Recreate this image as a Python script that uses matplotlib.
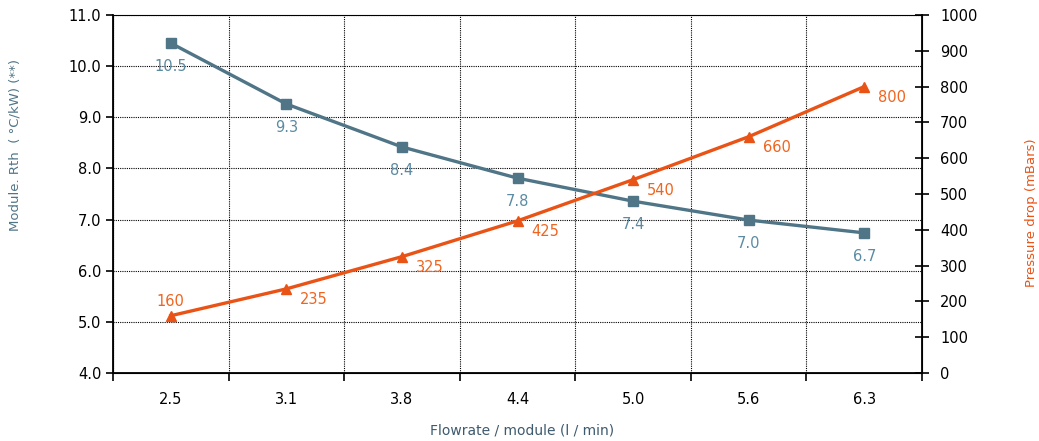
import matplotlib.pyplot as plt
import numpy as np

flow = ["2.5", "3.1", "3.8", "4.4", "5.0", "5.6", "6.3"]
rth = [10.45, 9.26, 8.42, 7.81, 7.36, 6.99, 6.74]
rth_labels = ["10.5", "9.3", "8.4", "7.8", "7.4", "7.0", "6.7"]
dp = [160, 235, 325, 425, 540, 660, 800]

blue = "#4f7587"
blue_txt = "#5b8ba3"
orange = "#ea5316"
orange_txt = "#f0641f"

W, H = 1039, 441


def make_fig():
    fig = plt.figure(figsize=(W / 100, H / 100), dpi=100)
    ax = fig.add_axes([113 / W, 1 - 373 / H, 809 / W, 358 / H])
    x = np.arange(len(flow))

    ax.set_xlim(-0.5, len(flow) - 0.5)
    ax.set_ylim(4, 11)
    ax.set_yticks(np.arange(4, 11.01, 1.0))
    ax.set_yticklabels([f"{v:.1f}" for v in np.arange(4, 11.01, 1.0)])
    ax.set_xticks(x)
    ax.set_xticklabels(flow)
    ax.set_xticks(np.arange(-0.5, len(flow)), minor=True)
    ax.tick_params(axis="x", which="major", length=0, pad=14, labelsize=10.5)
    ax.tick_params(axis="x", which="minor", length=6, width=1.2, direction="out")
    ax.tick_params(axis="y", length=5, width=1.2, direction="out", labelsize=10.5)
    ax.grid(True, axis="y", color="black", linestyle=(0, (1, 1)), linewidth=0.8)
    ax.grid(True, axis="x", which="minor", color="black", linestyle=(0, (1, 1)), linewidth=0.8)
    ax.set_axisbelow(True)
    ax.spines["top"].set_linestyle((0, (1, 1)))
    ax.spines["top"].set_linewidth(0.8)
    ax.spines["left"].set_linewidth(1.3)
    ax.spines["bottom"].set_linewidth(1.3)

    ax.plot(x, rth, color=blue, linewidth=2.4, marker="s", markersize=7, zorder=3)
    for xi, yi, lab in zip(x, rth, rth_labels):
        ax.annotate(lab, (xi, yi), xytext=(0, -17), textcoords="offset points",
                    ha="center", va="center", color=blue_txt, fontsize=10.5)

    ax2 = ax.twinx()
    ax2.set_ylim(0, 1000)
    ax2.set_yticks(np.arange(0, 1001, 100))
    ax2.tick_params(axis="y", length=10, width=1.2, direction="inout", labelsize=10.5, pad=8)
    ax2.spines["right"].set_linewidth(1.3)
    ax2.spines["top"].set_visible(False)
    ax2.plot(x, dp, color=orange, linewidth=2.4, marker="^", markersize=7.5, zorder=3)
    for i, (xi, yi) in enumerate(zip(x, dp)):
        if i == 0:
            off, ha = (0, 10), "center"
        else:
            off, ha = (10, -8), "left"
        ax2.annotate(str(yi), (xi, yi), xytext=off, textcoords="offset points",
                     ha=ha, va="center", color=orange_txt, fontsize=10.5)

    # axis titles placed as in the reference
    fig.text(15 / W, 1 - 145 / H, "Module. Rth  ( °C/kW) (**)", rotation=90,
             ha="center", va="center", color=blue, fontsize=9.5)
    fig.text(1031 / W, 1 - 213 / H, "Pressure drop (mBars)", rotation=90,
             ha="center", va="center", color=orange, fontsize=9.5)
    fig.text(522 / W, 1 - 431 / H, "Flowrate / module (l / min)",
             ha="center", va="center", color="#3e5a6e", fontsize=10)

    plt.savefig("out.png", dpi=100)


if __name__ == "__main__":
    make_fig()
